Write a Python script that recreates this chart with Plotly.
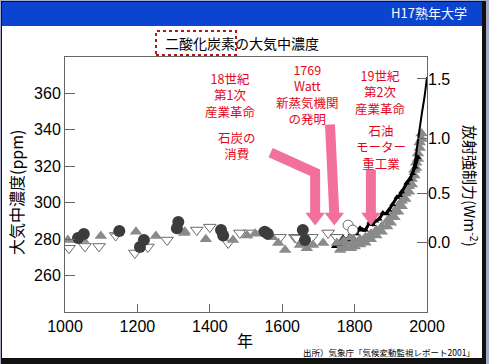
import math
import plotly.graph_objects as go

# ---------------- data ----------------
circ_years = [1036, 1052, 1150, 1207, 1218, 1309, 1313, 1431, 1437, 1552, 1560, 1657, 1663]
circ_ppm = [280.6, 282.8, 284.5, 275.7, 279.5, 286.0, 289.4, 285.0, 282.0, 284.0, 283.0, 285.0, 279.5]

tri_years = [1008, 1050, 1099, 1144, 1196, 1251, 1329, 1331, 1389, 1464, 1503, 1525, 1539,
             1572, 1589, 1608, 1649, 1668, 1685, 1713, 1751, 1770, 1790]
tri_ppm = [279.5, 279.5, 281.7, 284.0, 284.0, 281.7, 283.4, 284.0, 280.0, 279.5, 282.0, 283.0, 283.4,
           281.0, 277.9, 274.0, 276.8, 275.0, 276.8, 277.9, 277.9, 279.0, 281.0]

otri_years = [1011, 1055, 1094, 1140, 1193, 1229, 1282, 1364, 1400, 1451, 1483, 1511,
              1594, 1635, 1640, 1682, 1727, 1751]
otri_ppm = [275.0, 276.0, 276.0, 282.0, 272.4, 275.7, 279.5, 285.0, 286.6, 277.9, 283.4, 283.4,
            281.0, 281.0, 280.6, 281.0, 283.4, 281.0]

ocirc_years = [1782, 1795]
ocirc_ppm = [287.7, 285.0]

band_years = [1760, 1775, 1790, 1800, 1815, 1830, 1845, 1860, 1875, 1890, 1900, 1910, 1920,
              1930, 1940, 1950, 1958, 1965, 1970, 1975, 1980, 1985]
band_ppm = [277.0, 278.0, 278.0, 279.0, 280.0, 281.0, 283.0, 285.0, 287.0, 290.0, 292.0, 295.0, 298.0,
            301.0, 305.0, 309.0, 313.0, 318.0, 322.0, 327.0, 333.0, 338.0]

sip_years = [1744, 1752, 1758, 1768, 1775, 1780, 1790, 1795, 1805, 1815, 1822, 1830, 1842, 1850,
             1858, 1868, 1878, 1888, 1895, 1905, 1917, 1925, 1930, 1944, 1953, 1960, 1967, 1975]
sip_ppm = [276.0, 279.0, 277.0, 281.0, 279.0, 280.0, 283.0, 284.0, 283.0, 286.0, 285.0, 285.0, 289.4, 288.0,
           290.0, 291.0, 294.3, 294.0, 296.0, 299.0, 303.0, 304.0, 306.0, 310.8, 313.0, 316.0, 319.6, 325.0]

ml_years = [1958, 1967, 1975, 1985, 1993, 2000]
ml_ppm = [315.0, 323.0, 334.0, 348.0, 358.0, 369.0]

forcing_ticks = [0.0, 0.5, 1.0, 1.5]
forcing_labels = ["0.0", "0.5", "1.0", "1.5"]
C0 = 278.0

ppm_ticks = [260, 280, 300, 320, 340, 360]
year_ticks = [1000, 1200, 1400, 1600, 1800, 2000]

# ---------------- figure ----------------
W, H = 489, 364
L, R, T, B = 65, 427, 57, 312
XR = [1000, 2000]
YR = [240, 380]

def px(x):
    return (x - L) / (R - L)

def py(y):
    return (B - y) / (B - T)

grey = "#8a8a8a"
dark = "#3c3c3c"
pink = "#f2719b"
red = "#e2081c"
cjk = "Noto Sans CJK JP"
lat = "Liberation Sans"

fig = go.Figure()

fig.add_trace(go.Scatter(x=band_years, y=band_ppm, mode="markers",
                         marker=dict(symbol="triangle-up", size=11, color=grey), showlegend=False))
fig.add_trace(go.Scatter(x=band_years, y=[v - 3 for v in band_ppm], mode="markers",
                         marker=dict(symbol="triangle-up", size=11, color=grey), showlegend=False))
fig.add_trace(go.Scatter(x=sip_years, y=sip_ppm, mode="lines+markers",
                         line=dict(color="black", width=3),
                         marker=dict(symbol="triangle-up", size=6, color="black"), showlegend=False))
fig.add_trace(go.Scatter(x=ml_years, y=ml_ppm, mode="lines",
                         line=dict(color="black", width=2, shape="spline"), showlegend=False))
fig.add_trace(go.Scatter(x=otri_years, y=otri_ppm, mode="markers",
                         marker=dict(symbol="triangle-down", size=11, color="white",
                                     line=dict(color="#6a6a6a", width=1)), showlegend=False))
fig.add_trace(go.Scatter(x=tri_years, y=tri_ppm, mode="markers",
                         marker=dict(symbol="triangle-up", size=11, color=grey), showlegend=False))
fig.add_trace(go.Scatter(x=circ_years, y=circ_ppm, mode="markers",
                         marker=dict(symbol="circle", size=12, color=dark), showlegend=False))
fig.add_trace(go.Scatter(x=ocirc_years, y=ocirc_ppm, mode="markers",
                         marker=dict(symbol="circle", size=10, color="white",
                                     line=dict(color="#6a6a6a", width=1)), showlegend=False))
# invisible trace on secondary axis so it renders
fig.add_trace(go.Scatter(x=[1000], y=[240], yaxis="y2", mode="markers",
                         marker=dict(opacity=0), showlegend=False, hoverinfo="skip"))

shapes = []
# slide decorations
shapes.append(dict(type="rect", xref="paper", yref="paper", x0=px(0), x1=px(W), y0=py(H), y1=py(0),
                   fillcolor="#a8abc8", line=dict(width=0), layer="below"))
shapes.append(dict(type="rect", xref="paper", yref="paper", x0=px(1), x1=px(486), y0=py(364), y1=py(1),
                   fillcolor="#111111", line=dict(width=0), layer="below"))
shapes.append(dict(type="rect", xref="paper", yref="paper", x0=px(2), x1=px(482), y0=py(358), y1=py(2),
                   fillcolor="white", line=dict(width=0), layer="below"))
shapes.append(dict(type="rect", xref="paper", yref="paper", x0=px(2), x1=px(482), y0=py(26), y1=py(2),
                   fillcolor="#0a44cf", line=dict(width=0), layer="below"))
# dotted box around 二酸化炭素
shapes.append(dict(type="rect", xref="paper", yref="paper", x0=px(156), x1=px(236), y0=py(55), y1=py(31),
                   line=dict(color="#b01818", width=2, dash="dot")))

# arrows (shafts + heads) in data coordinates
def head(xc, tip, halfw=27, h=7):
    return dict(type="path", xref="x", yref="y",
                path=f"M {xc - halfw},{tip + h} L {xc + halfw},{tip + h} L {xc},{tip} Z",
                fillcolor=pink, line=dict(width=0))

tip = 287.5
shapes.append(dict(type="path", xref="x", yref="y",
                   path=f"M 1568,327.5 L 1691,316.5 L 1691,{tip + 6}",
                   line=dict(color=pink, width=10)))
shapes.append(head(1691, tip))
shapes.append(dict(type="path", xref="x", yref="y",
                   path=f"M 1732,343 L 1744,{tip + 6}",
                   line=dict(color=pink, width=10)))
shapes.append(head(1744, tip))
shapes.append(dict(type="path", xref="x", yref="y",
                   path=f"M 1845,318 L 1845,{tip + 6}",
                   line=dict(color=pink, width=10)))
shapes.append(head(1845, tip))

ann = []
def a(text, x, y, size, color="black", family=cjk, xanchor="center", angle=0):
    ann.append(dict(text=text, xref="paper", yref="paper", x=px(x), y=py(y), showarrow=False,
                    font=dict(size=size, color=color, family=family), xanchor=xanchor,
                    yanchor="middle", textangle=angle))

a("H17熟年大学", 469, 13, 13, color="white", xanchor="right")
a("二酸化炭素の大気中濃度", 242, 43, 14)
a("大気中濃度(ppm)", 16, 193, 16, angle=-90)
a("放射強制力(Wm<sup>-2</sup>)", 471, 186, 15, angle=90)
a("年", 245, 340, 16)
a("出所）気象庁「気候変動監視レポート2001」", 477, 352, 8.5, xanchor="right")
a("18世紀<br>第1次<br>産業革命", 230, 95, 12.5, color=red)
a("石炭の<br>消費", 237, 145, 12.5, color=red)
a("1769<br>Watt<br>新蒸気機関<br>の発明", 307, 94, 12.5, color=red)
a("19世紀<br>第2次<br>産業革命", 380, 92, 12.5, color=red)
a("石油<br>モーター<br>重工業", 381, 147, 12.5, color=red)

axis_line = "#666666"
fig.update_layout(
    width=W, height=H,
    margin=dict(l=L, r=W - R, t=T, b=H - B, pad=0),
    paper_bgcolor="white", plot_bgcolor="white",
    showlegend=False,
    shapes=shapes, annotations=ann,
    xaxis=dict(range=XR, tickvals=year_ticks, ticks="inside", ticklen=8, tickcolor=axis_line,
               showline=True, linecolor=axis_line, linewidth=1, mirror=True, showgrid=False,
               zeroline=False, tickfont=dict(family=lat, size=16, color="black")),
    yaxis=dict(range=YR, tickvals=ppm_ticks, ticks="inside", ticklen=10, tickcolor=axis_line,
               showline=True, linecolor=axis_line, linewidth=1, mirror=True, showgrid=False,
               zeroline=False, tickfont=dict(family=lat, size=16, color="black")),
    yaxis2=dict(range=YR, overlaying="y", side="right",
                tickvals=[C0 * math.exp(f / 5.35) for f in forcing_ticks], ticktext=forcing_labels,
                ticks="inside", ticklen=10, tickcolor=axis_line, showline=False, showgrid=False,
                zeroline=False, tickfont=dict(family=lat, size=16, color="black")),
)

fig.write_html("out.html", config={"displayModeBar": False},
               post_script="document.body.style.margin='0';document.body.style.overflow='hidden';")
